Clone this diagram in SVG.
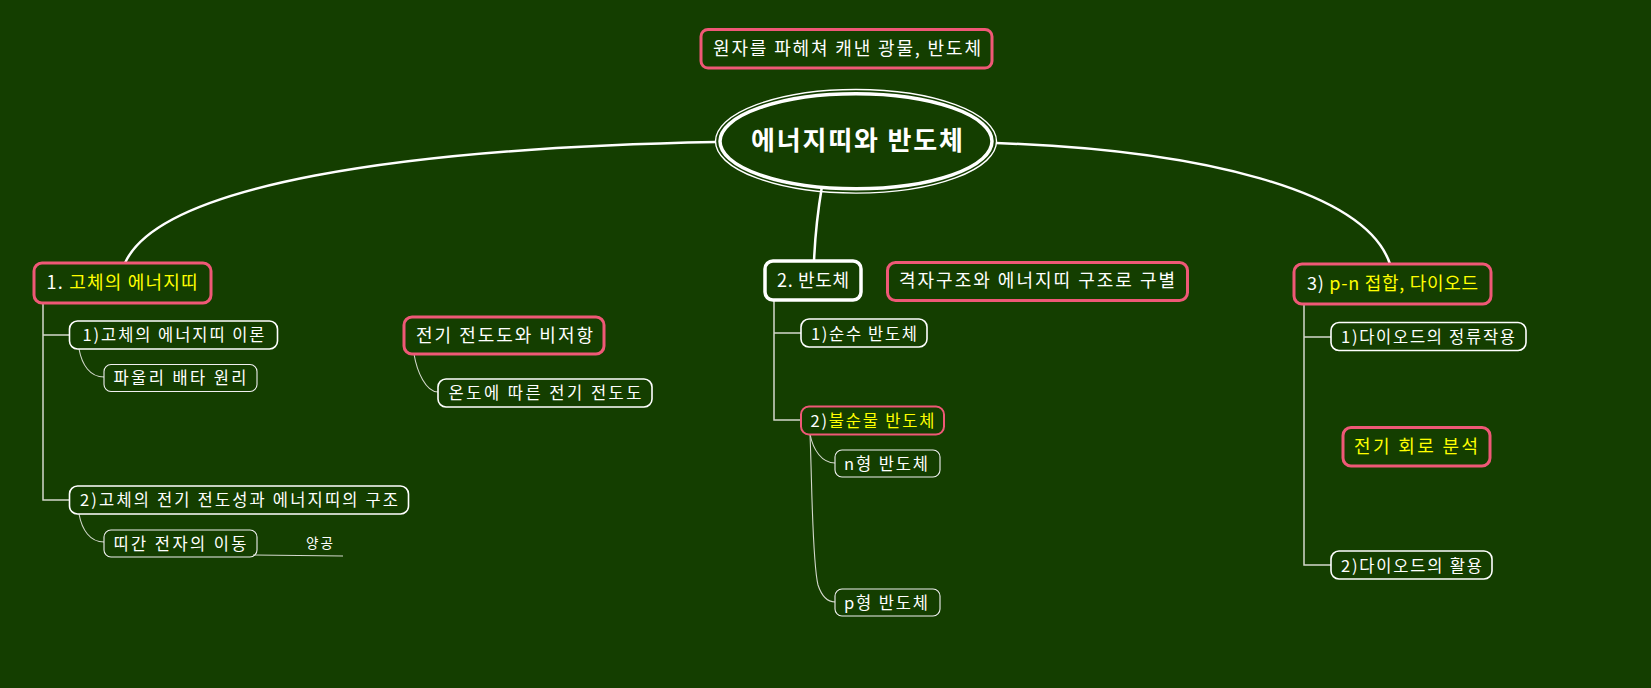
<svg xmlns="http://www.w3.org/2000/svg" width="1651" height="688" viewBox="0 0 1651 688">
<style>
text{font-family:"Noto Sans CJK KR","Malgun Gothic",sans-serif;fill:#ffffff}
.y{fill:#ffff00}
.m{font-size:18px}
.s{font-size:16.5px}
.pk{fill:none;stroke:#ef5876;stroke-width:3}
.pk2{fill:none;stroke:#ef5876;stroke-width:2}
.wt{fill:none;stroke:#ffffff;stroke-width:1.6}
.wt1{fill:none;stroke:#f0f0f0;stroke-width:1.1}
.main{fill:none;stroke:#ffffff;stroke-width:2.5}
.sub{fill:none;stroke:#d3d8cb;stroke-width:1.5}
.sub1{fill:none;stroke:#d3d8cb;stroke-width:1.1}
</style>
<rect width="1651" height="688" fill="#143e00"/>
<g id="connectors">
<path class="main" d="M716,142 C400,148 160,185 125,263"/>
<path class="main" d="M996,143 C1200,150 1365,190 1390,264"/>
<path class="main" d="M822,186 C818,210 815,235 814,262"/>
<path class="sub" d="M43,303 V500 H70 M43,335 H70"/>
<path class="sub1" d="M79,349 C82,365 90,377 104,377"/>
<path class="sub1" d="M79,514 C82,530 90,542 104,542"/>
<path class="sub1" d="M253,555 L343,556"/>
<path class="sub1" d="M414,354 C417,372 426,392 438,392"/>
<path class="sub" d="M774,300 V420 H801 M774,333 H801"/>
<path class="sub1" d="M810,434 C813,450 822,463 835,463"/>
<path class="sub1" d="M810,434 C812,480 812,560 818,585 C822,597 828,602 835,602"/>
<path class="sub" d="M1304,304 V565 H1331 M1304,337 H1331"/>
</g>
<g id="top-note">
<rect class="pk" x="701" y="29.5" width="291" height="38.5" rx="7"/>
<text class="m" x="713" y="55" textLength="268" lengthAdjust="spacing">원자를 파헤쳐 캐낸 광물, 반도체</text>
</g>
<g id="root">
<ellipse cx="856" cy="141.3" rx="140.5" ry="51.8" fill="none" stroke="#ffffff" stroke-width="1.4"/>
<ellipse cx="856" cy="141.3" rx="136" ry="47.5" fill="#143e00" stroke="#ffffff" stroke-width="3.5"/>
<text x="751" y="150" font-size="26" font-weight="bold" textLength="212" lengthAdjust="spacing">에너지띠와 반도체</text>
</g>
<g id="n1">
<rect class="pk" x="34" y="263" width="177" height="40" rx="8"/>
<text class="m" x="46.5" y="288.5" textLength="151" lengthAdjust="spacing">1. <tspan class="y">고체의 에너지띠</tspan></text>
</g>
<g id="n1-1">
<rect class="wt" x="69.5" y="321" width="208" height="28" rx="8"/>
<text class="s" x="82.5" y="341" textLength="182" lengthAdjust="spacing">1)고체의 에너지띠 이론</text>
</g>
<g id="n1-1-1">
<rect class="wt1" x="104" y="364.5" width="153" height="27" rx="7"/>
<text class="s" x="113.5" y="384" textLength="133" lengthAdjust="spacing">파울리 배타 원리</text>
</g>
<g id="n1-2">
<rect class="wt" x="69.5" y="486" width="339" height="28" rx="8"/>
<text class="s" x="80" y="506" textLength="318" lengthAdjust="spacing">2)고체의 전기 전도성과 에너지띠의 구조</text>
</g>
<g id="n1-2-1">
<rect class="wt1" x="104" y="530" width="153" height="27" rx="7"/>
<text class="s" x="113.5" y="549.5" textLength="133" lengthAdjust="spacing">띠간 전자의 이동</text>
</g>
<g id="n1-2-1-1">
<text x="306" y="547.5" font-size="13.5" textLength="27" lengthAdjust="spacing">양공</text>
</g>
<g id="n-cond">
<rect class="pk" x="404" y="317" width="200" height="37" rx="8"/>
<text class="m" x="416" y="342" textLength="177" lengthAdjust="spacing">전기 전도도와 비저항</text>
</g>
<g id="n-cond-1">
<rect class="wt" x="438" y="379" width="214" height="28" rx="8"/>
<text class="s" x="448.5" y="398.5" textLength="193" lengthAdjust="spacing">온도에 따른 전기 전도도</text>
</g>
<g id="n2">
<rect x="765" y="261" width="96" height="39" rx="8" fill="none" stroke="#ffffff" stroke-width="3.5"/>
<text class="m" x="777" y="286.5" textLength="72" lengthAdjust="spacing">2. 반도체</text>
</g>
<g id="n2-note">
<rect class="pk" x="887.5" y="262.5" width="300" height="38" rx="8"/>
<text class="m" x="899" y="287" textLength="276" lengthAdjust="spacing">격자구조와 에너지띠 구조로 구별</text>
</g>
<g id="n2-1">
<rect class="wt" x="801" y="319" width="126" height="28" rx="8"/>
<text class="s" x="811" y="339.5" textLength="106" lengthAdjust="spacing">1)순수 반도체</text>
</g>
<g id="n2-2">
<rect class="pk2" x="801" y="406.5" width="143" height="28" rx="8"/>
<text class="s" x="810.5" y="427" textLength="124" lengthAdjust="spacing">2)<tspan class="y">불순물 반도체</tspan></text>
</g>
<g id="n2-2-1">
<rect class="wt1" x="835" y="450" width="105" height="27" rx="7"/>
<text class="s" x="844" y="469.5" textLength="84" lengthAdjust="spacing">n형 반도체</text>
</g>
<g id="n2-2-2">
<rect class="wt1" x="835" y="589" width="105" height="27" rx="7"/>
<text class="s" x="844" y="608.5" textLength="84" lengthAdjust="spacing">p형 반도체</text>
</g>
<g id="n3">
<rect class="pk" x="1294" y="264" width="197" height="40" rx="8"/>
<text class="m" x="1307" y="290" textLength="171" lengthAdjust="spacing">3) <tspan class="y">p-n 접합, 다이오드</tspan></text>
</g>
<g id="n3-1">
<rect class="wt" x="1331" y="322.5" width="195" height="28" rx="8"/>
<text class="s" x="1341" y="343" textLength="174" lengthAdjust="spacing">1)다이오드의 정류작용</text>
</g>
<g id="n3-note">
<rect class="pk" x="1343" y="427.5" width="147" height="38.5" rx="8"/>
<text class="m y" x="1354" y="453" textLength="124" lengthAdjust="spacing">전기 회로 분석</text>
</g>
<g id="n3-2">
<rect class="wt" x="1331" y="551" width="161" height="28" rx="8"/>
<text class="s" x="1341" y="571.5" textLength="141" lengthAdjust="spacing">2)다이오드의 활용</text>
</g>
</svg>
